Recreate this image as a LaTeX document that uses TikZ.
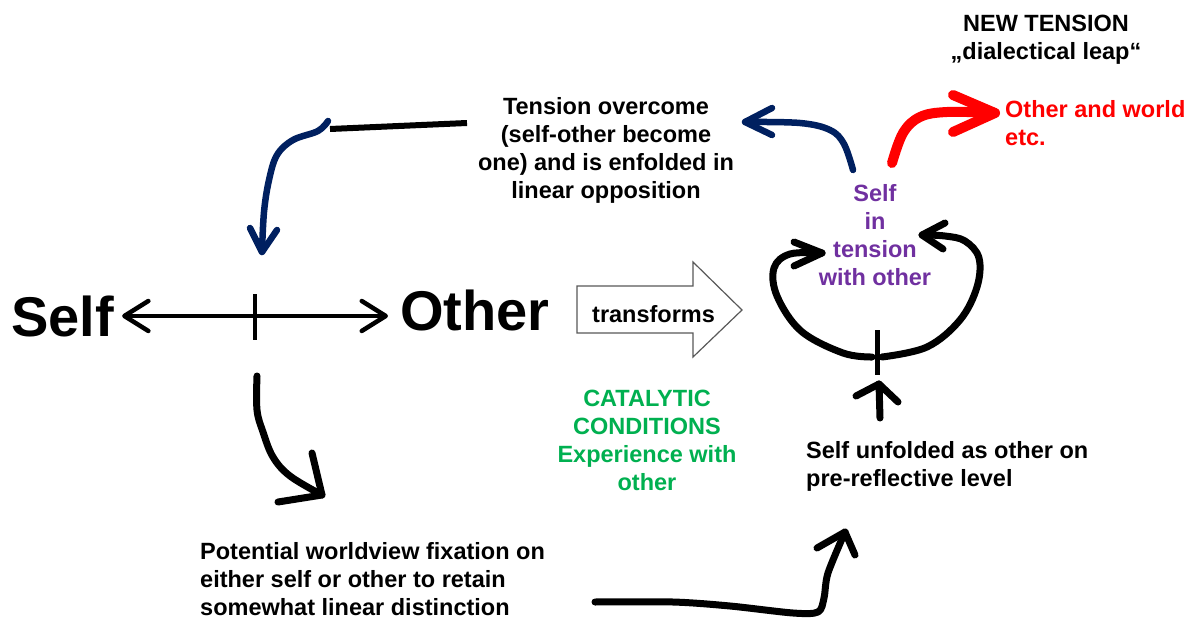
\documentclass[tikz,border=0pt]{standalone}
\usepackage{fontspec}
\setmainfont{Liberation Sans}
\usetikzlibrary{arrows.meta}
\definecolor{navy}{RGB}{0,32,96}
\definecolor{hotred}{RGB}{255,0,0}
\definecolor{violet}{RGB}{112,48,160}
\definecolor{leaf}{RGB}{0,176,80}
\newcommand\txtfont{\bfseries\fontsize{23.5}{28}\selectfont}
\newcommand\bigfont{\bfseries\fontsize{56}{60}\selectfont}
\tikzset{
  txt/.style={font=\txtfont, inner sep=0pt, text=black},
  big/.style={font=\bigfont, inner sep=0pt, text=black},
  hand/.style={line width=7pt, line cap=round, line join=round},
  thin/.style={line width=4.5pt, line cap=round, line join=round},
}
\begin{document}
\begin{tikzpicture}[x=1pt,y=-1pt]
\useasboundingbox[fill=white] (0,0) rectangle (1196,618);

% --- the linear opposition Self <-> Other
\node[big, anchor=base west] (selfL) at (11,336) {Self};
\node[big, anchor=base west] (otherL) at (400,330) {Other};
\draw[thin, {Straight Barb[length=24pt,width=30pt,round]}-{Straight Barb[length=24pt,width=30pt,round]}]
  ([xshift=8pt]selfL.east) -- ([xshift=-12pt]selfL.east -| otherL.west);
\coordinate (tickT) at (255,294);
\coordinate (tickB) at (255,340);
\draw[line width=4pt] (tickT) -- (tickB);

% --- "transforms" block arrow
\draw[draw=black!65, line width=1.2pt, fill=white, line join=miter]
  (577,286) -- (693,286) -- (693,262) -- (742,310) -- (693,357) -- (693,333) -- (577,333) -- cycle;
\node[txt, anchor=base west] (trans) at (592,322) {transforms};

% --- texts
\node[txt, anchor=north, align=center] (overcome) at (606,97)
  {Tension overcome\\(self-other become\\one) and is enfolded in\\linear opposition};
\node[txt, anchor=north, align=center] (newt) at (1046,15)
  {NEW TENSION\\„dialectical leap“};
\node[txt, anchor=north west, align=left, text=hotred] (world) at (1005,100)
  {Other and world\\etc.};
\node[txt, anchor=north, align=center, text=violet] (tension) at (875,184)
  {Self\\in\\tension\\with other};
\node[txt, anchor=north, align=center, text=leaf] (catal) at (647,390)
  {CATALYTIC\\CONDITIONS\\Experience with\\other};
\node[txt, anchor=north west, align=left] (unfold) at (806,441)
  {Self unfolded as other on\\pre-reflective level};
\node[txt, anchor=north west, align=left] (potential) at (200,542)
  {Potential worldview fixation on\\either self or other to retain\\somewhat linear distinction};

% --- top-left: bar from the text and blue arrow down to the tick
\coordinate (barR) at (467,123);
\coordinate (barL) at (330,129);
\draw[line width=6pt] (barR) -- (barL);
\coordinate (blueTip) at (262,252);
\draw[hand, line width=6.5pt, navy] plot[smooth, tension=0.6] coordinates
  {(328,121) (318,131) (293,140) (277,155) (269,180) (264,212) (blueTip)};
\draw[hand, line width=6.5pt, navy] (250,228) -- (blueTip) -- (277,230);

% --- black arrow down to the fixation text
\coordinate (downTip) at (322,495);
\draw[hand] plot[smooth, tension=0.6] coordinates
  {(257,376) (257,410) (263,432) (273,457) (290,476) (downTip)};
\draw[hand] (312,453) -- (downTip) -- (278,502);

% --- bottom arrow to the unfolded self
\coordinate (botTip) at (845,532);
\draw[hand] plot[smooth, tension=0.5] coordinates
  {(595,602) (673,602) (730,606) (793,613) (818,612) (824,598) (828,573) (botTip)};
\draw[hand] (817,548) -- (botTip) -- (855,555);

% --- up arrow into the loop
\coordinate (upTip) at (879,384);
\draw[hand] (880,418) -- (upTip);
\draw[hand] (856,396) -- (upTip) -- (898,402);

% --- the loop around the self in tension
\coordinate (loopL) at (822,253);
\coordinate (loopR) at (922,235);
\draw[hand] plot[smooth, tension=0.6] coordinates
  {(872,357) (843,353) (801,331) (777,296) (774,268) (790,254) (loopL)};
\draw[hand] (794,242) -- (loopL) -- (794,266);
\draw[hand] plot[smooth, tension=0.6] coordinates
  {(882,357) (927,347) (960,320) (977,287) (979,258) (965,241) (945,236) (loopR)};
\draw[hand] (945,223) -- (loopR) -- (943,249);
\draw[line width=5pt] (877,330) -- (877,375);

% --- blue arrow back to the top text
\coordinate (navyTip) at (745,122);
\draw[hand, line width=6.5pt, navy] plot[smooth, tension=0.6] coordinates
  {(853,170) (844,144) (830,130) (800,123) (navyTip)};
\draw[hand, line width=6.5pt, navy] (772,108) -- (navyTip) -- (772,135);

% --- red arrow to other and world
\coordinate (redTip) at (995,113);
\draw[hand, line width=10pt, hotred] plot[smooth, tension=0.6] coordinates
  {(892,163) (903,133) (920,117) (947,112) (redTip)};
\draw[hand, line width=10pt, hotred] (953,95) -- (redTip) -- (953,132);
\end{tikzpicture}
\end{document}
